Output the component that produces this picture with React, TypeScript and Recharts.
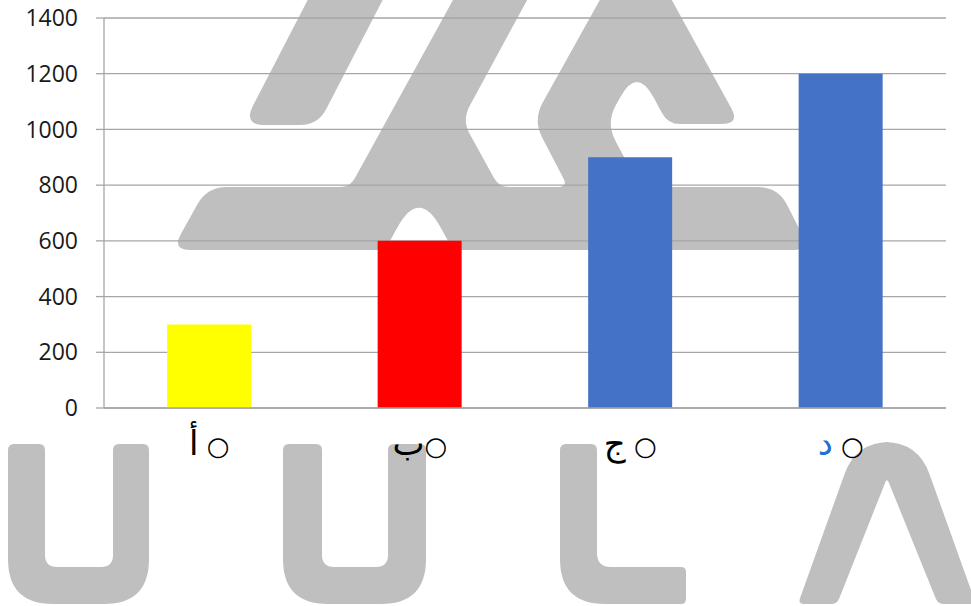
import { Bar, BarChart, CartesianGrid, Cell, XAxis, YAxis } from "recharts";

const categories = ["أ", "ب", "ج", "د"];
const values = [300, 600, 900, 1200];
const barColors = ["#FFFF00", "#FF0000", "#4472C4", "#4472C4"];
const letterColors = ["#000000", "#000000", "#000000", "#1F6FDB"];
const separators = [" ", "", " ", " "];
const yTicks = [0, 200, 400, 600, 800, 1000, 1200, 1400];

// background watermark outlines: [x, y, corner radius]
const logoBody = [
  [207, 187, 20], [350, 187, 10], [464, -20, 0], [538, -20, 0], [462, 120, 16],
  [499, 187, 10], [568, 187, 10], [533, 120, 20], [636, -65, 0], [740, 124, 18],
  [668, 124, 12], [637, 67, 34], [606, 123, 20], [640, 187, 10], [778, 187, 20],
  [810, 250, 18], [453, 250, 8], [419, 188, 45], [385, 250, 8], [172, 250, 18],
];
const logoStroke = [[318, -20, 0], [393, -20, 0], [318, 125, 18], [243, 125, 22]];
const letterU1 = [
  [8, 444, 6], [45, 444, 6], [45, 567, 12], [113, 567, 12],
  [113, 444, 6], [149, 444, 6], [149, 604, 45], [8, 604, 45],
];
const letterU2 = [
  [283, 444, 6], [322, 444, 6], [322, 567, 12], [388, 567, 12],
  [388, 444, 6], [426, 444, 6], [426, 604, 45], [283, 604, 45],
];
const letterL = [[560, 444, 6], [597, 444, 6], [597, 567, 14], [686, 567, 5], [686, 604, 5], [560, 604, 45]];
const letterA = [[856, 442, 34], [918, 442, 34], [976, 604, 6], [938, 604, 6], [887, 478, 5], [837, 604, 6], [798, 604, 6]];
const watermark = [logoBody, logoStroke, letterU1, letterU2, letterL, letterA];

const data = categories.map((name, i) => ({ name, value: values[i] }));

function roundedPath(pts: number[][]) {
  const n = pts.length;
  let d = "";
  pts.forEach(([x, y, r], i) => {
    const cmd = i === 0 ? "M" : "L";
    if (!r) {
      d += `${cmd}${x} ${y} `;
      return;
    }
    const [px, py] = pts[(i - 1 + n) % n];
    const [nx, ny] = pts[(i + 1) % n];
    const l1 = Math.hypot(px - x, py - y);
    const l2 = Math.hypot(nx - x, ny - y);
    const ax = x + ((px - x) / l1) * r;
    const ay = y + ((py - y) / l1) * r;
    const bx = x + ((nx - x) / l2) * r;
    const by = y + ((ny - y) / l2) * r;
    d += `${cmd}${ax} ${ay} Q${x} ${y} ${bx} ${by} `;
  });
  return d + "Z";
}

function CategoryTick(props: any) {
  const { x, y, payload } = props;
  const i = payload.index;
  return (
    <text
      x={x}
      y={y + 47}
      textAnchor="middle"
      fontFamily="DejaVu Sans"
      fontSize={26}
      fill="#000"
    >
      <tspan fill={letterColors[i]} fontSize={34}>{categories[i]}</tspan>
      <tspan>{separators[i] + "○"}</tspan>
    </text>
  );
}

export default function App() {
  return (
    <div style={{ position: "absolute", left: 0, top: 0, width: 971, height: 606, background: "#fff" }}>
      <svg width={971} height={606} style={{ position: "absolute", left: 0, top: 0 }}>
        {watermark.map((shape, i) => (
          <path key={i} d={roundedPath(shape)} fill="#BFBFBF" />
        ))}
      </svg>
      <div style={{ position: "absolute", left: 0, top: 0 }}>
        <BarChart
          width={971}
          height={606}
          data={data}
          margin={{ top: 18, right: 25, left: 0, bottom: 158 }}
          barCategoryGap="30%"
        >
          <CartesianGrid vertical={false} stroke="#A6A6A6" strokeWidth={1.3} />
          <XAxis
            dataKey="name"
            height={40}
            interval={0}
            tickLine={false}
            tickSize={0}
            tickMargin={0}
            axisLine={{ stroke: "#A6A6A6", strokeWidth: 1.3 }}
            tick={<CategoryTick />}
          />
          <YAxis
            width={104}
            domain={[0, 1400]}
            ticks={yTicks}
            interval={0}
            tickSize={8}
            tickMargin={18}
            axisLine={{ stroke: "#A6A6A6", strokeWidth: 1.3 }}
            tickLine={{ stroke: "#A6A6A6", strokeWidth: 1.3 }}
            tick={{ fill: "#1A1A1A", fontSize: 23, fontFamily: "Open Sans" }}
          />
          <Bar dataKey="value" isAnimationActive={false}>
            {data.map((d, i) => (
              <Cell key={d.name} fill={barColors[i]} />
            ))}
          </Bar>
        </BarChart>
      </div>
    </div>
  );
}
